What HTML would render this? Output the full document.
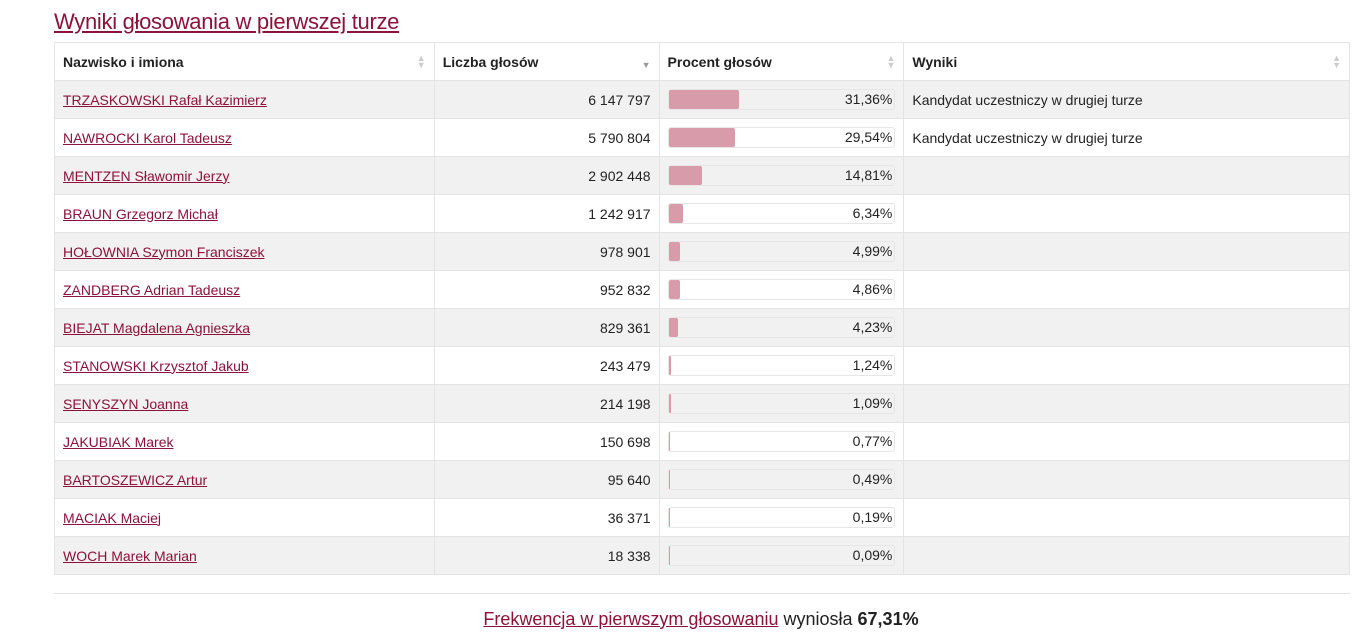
<!DOCTYPE html>
<html><head><meta charset="utf-8"><style>
body{margin:0;width:1364px;height:641px;background:#fff;font-family:"Liberation Sans",sans-serif;color:#222;overflow:hidden;position:relative}
a{color:#8c1239;text-decoration:underline}
#title{position:absolute;left:54px;top:9px;font-size:22px;margin:0;font-weight:normal;letter-spacing:-0.3px}
table{position:absolute;left:54px;top:42px;border-collapse:collapse;width:1296px;font-size:14px}
th,td{border:1px solid #e4e4e4;height:38px;padding:0 8px;box-sizing:border-box}
th{text-align:left;font-weight:bold;position:relative;font-size:14px}
th .s{position:absolute;right:8px;top:12px;color:#ccc;font-size:9px;line-height:7px}
tbody tr:nth-child(odd){background:#f1f1f1}
td.n{text-align:right}
.track{position:relative;height:21px;border:1px solid #e6e6e6;border-radius:3px;background:#fff;box-sizing:border-box}
tbody tr:nth-child(odd) .track{background:#f1f1f1}
.bar{position:absolute;left:0;top:0;bottom:0;background:#d79ba9;border-radius:2px}
.pct{position:absolute;right:2px;top:0;line-height:19px}
#rule{position:absolute;left:54px;top:593px;width:1296px;border-top:1px solid #e4e4e4}
#foot{position:absolute;left:0;width:1402px;top:609px;text-align:center;font-size:18px}
</style></head><body>
<h1 id="title"><a href="#">Wyniki głosowania w pierwszej turze</a></h1>
<table>
<colgroup><col style="width:380px"><col style="width:225px"><col style="width:245px"><col style="width:446px"></colgroup>
<thead><tr>
<th>Nazwisko i imiona<span class="s">▲<br>▼</span></th>
<th>Liczba głosów<span class="s" style="color:#999">&nbsp;<br>▼</span></th>
<th>Procent głosów<span class="s">▲<br>▼</span></th>
<th>Wyniki<span class="s">▲<br>▼</span></th>
</tr></thead>
<tbody id="tb"></tbody></table>
<div id="rule"></div>
<div id="foot"><a href="#">Frekwencja w pierwszym głosowaniu</a> wyniosła <b>67,31%</b></div>
<script>
const names=["TRZASKOWSKI Rafał Kazimierz","NAWROCKI Karol Tadeusz","MENTZEN Sławomir Jerzy","BRAUN Grzegorz Michał","HOŁOWNIA Szymon Franciszek","ZANDBERG Adrian Tadeusz","BIEJAT Magdalena Agnieszka","STANOWSKI Krzysztof Jakub","SENYSZYN Joanna","JAKUBIAK Marek","BARTOSZEWICZ Artur","MACIAK Maciej","WOCH Marek Marian"];
const votes=[6147797,5790804,2902448,1242917,978901,952832,829361,243479,214198,150698,95640,36371,18338];
const percents=[31.36,29.54,14.81,6.34,4.99,4.86,4.23,1.24,1.09,0.77,0.49,0.19,0.09];
const results=["Kandydat uczestniczy w drugiej turze","Kandydat uczestniczy w drugiej turze","","","","","","","","","","",""];
const tb=document.getElementById('tb');
const fmt=v=>String(v).replace(/\B(?=(\d{3})+(?!\d))/g,' ');
names.forEach((n,i)=>{
 const tr=document.createElement('tr');
 
 
 const w=Math.max(percents[i],0.8);
 tr.innerHTML=`<td><a href="#">${n}</a></td><td class="n">${fmt(votes[i])}</td><td><div class="track"><div class="bar" style="width:${w}%"></div><span class="pct">${percents[i].toFixed(2).replace('.',',')}%</span></div></td><td>${results[i]}</td>`;
 tb.appendChild(tr);
});
</script>
</body></html>
